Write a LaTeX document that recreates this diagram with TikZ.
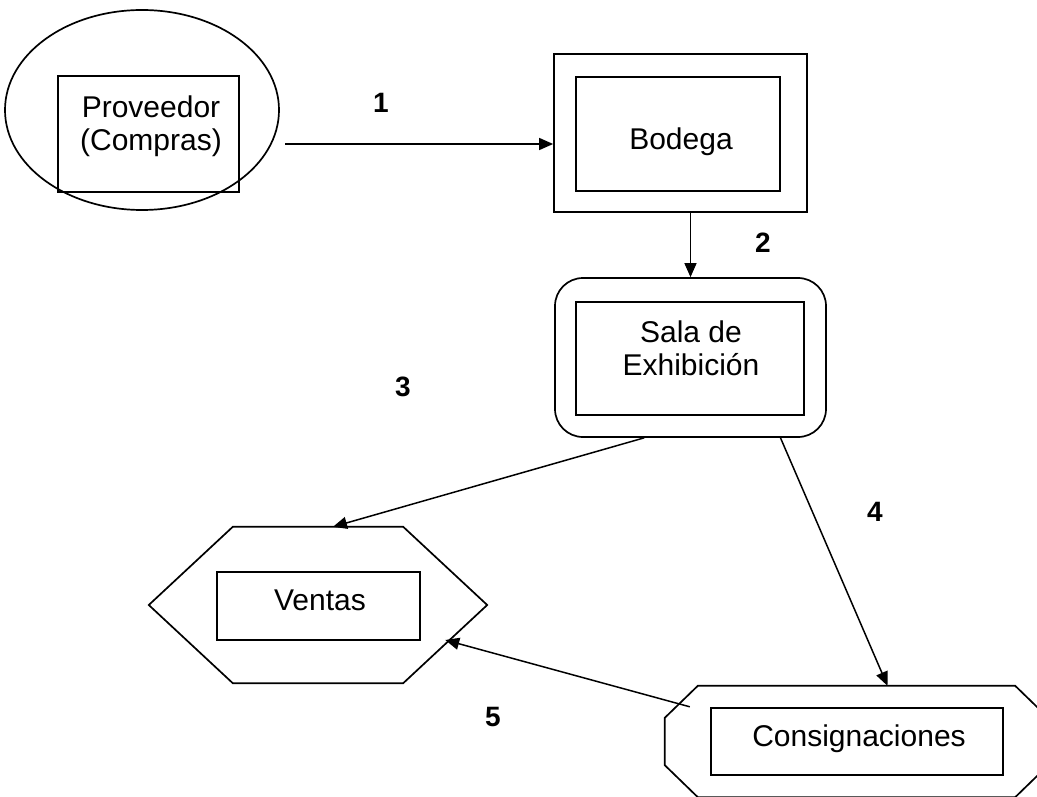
\documentclass[tikz,border=0pt]{standalone}
\usepackage{fontspec}
\setmainfont{Liberation Sans}
\usetikzlibrary{shapes.geometric,arrows.meta,calc}
\begin{document}
\begin{tikzpicture}[x=1pt,y=-1pt,
  shp/.style={draw,line width=1.7pt,inner sep=0pt},
  box/.style={draw,line width=1.7pt,inner sep=0pt,rectangle},
  ghost/.style={draw=none,inner sep=0pt,rectangle},
  poly/.style={line width=1.7pt,line join=miter},
  txt/.style={font=\fontsize{30}{33}\selectfont,align=center,inner sep=0pt},
  num/.style={font=\fontsize{28}{28}\selectfont\bfseries,inner sep=0pt},
  arr/.style={line width=1.5pt,-{Triangle[length=14pt,width=12pt]}}]
\useasboundingbox (0,0) rectangle (1037,797);
\clip (0,0) rectangle (1037,797);

% Proveedor
\node[shp,ellipse,minimum width=274pt,minimum height=200pt] (prov) at (142,110) {};
\node[box,minimum width=181pt,minimum height=116pt] (provbox) at (148.5,134) {};
\node[txt] (provtxt) at (151,126) {Proveedor\\(Compras)};

% Bodega
\node[box,minimum width=253pt,minimum height=158pt] (bod) at (680.5,133) {};
\node[box,minimum width=204pt,minimum height=114pt] (bodbox) at (678,134) {};
\node[txt] (bodtxt) at (681,142) {Bodega};

% Sala de Exhibicion
\node[box,rounded corners=28pt,minimum width=271pt,minimum height=159pt] (sala) at (690.5,357.5) {};
\node[box,minimum width=228pt,minimum height=113pt] (salabox) at (690,358.5) {};
\node[txt] (salatxt) at (691,348) {Sala de\\Exhibición};

% Ventas (hexagon)
\node[ghost,minimum width=338pt,minimum height=156pt] (ventas) at (318,605) {};
\draw[poly] (ventas.west) -- ($(ventas.north west)+(84,0)$) -- ($(ventas.north east)+(-84,0)$)
  -- (ventas.east) -- ($(ventas.south east)+(-84,0)$) -- ($(ventas.south west)+(84,0)$) -- cycle;
\node[box,minimum width=203pt,minimum height=68pt] (ventasbox) at (318.5,606) {};
\node[txt] (ventastxt) at (320,600) {Ventas};

% Consignaciones (octagon)
\node[ghost,minimum width=383pt,minimum height=111pt] (consig) at (856.5,741.5) {};
\draw[poly] ($(consig.north west)+(0,32)$) -- ($(consig.north west)+(33,0)$)
  -- ($(consig.north east)+(-33,0)$) -- ($(consig.north east)+(0,32)$)
  -- ($(consig.south east)+(0,-32)$) -- ($(consig.south east)+(-33,0)$)
  -- ($(consig.south west)+(33,0)$) -- ($(consig.south west)+(0,-32)$) -- cycle;
\node[box,minimum width=292pt,minimum height=67pt] (consigbox) at (857,741.5) {};
\node[txt] (consigtxt) at (859,739) {Consignaciones};

% Connectors
\coordinate (s1) at (285,144);
\draw[arr] (s1) -- (s1 -| bod.west);
\draw[arr] (bod.south -| sala.north) -- (sala.north);
\draw[arr] ($(sala.south west)!0.33!(sala.south east)$) -- ($(ventas.north)+(15,0)$);
\draw[arr] ($(sala.south west)!0.83!(sala.south east)$) -- ($(consig.north)+(31,0)$);
\draw[arr] ($(consig.north west)+(25,21)$) -- ($(ventas.east)+(-42,35)$);

% Numbers
\node[num] (n1) at (381,103) {1};
\node[num] (n2) at (763,243) {2};
\node[num] (n3) at (403,387) {3};
\node[num] (n4) at (875,512) {4};
\node[num] (n5) at (493,717) {5};
\end{tikzpicture}
\end{document}
